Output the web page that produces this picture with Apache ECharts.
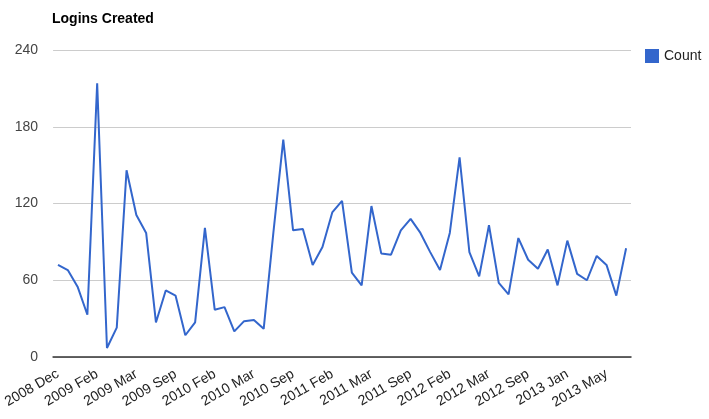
<!DOCTYPE html>
<html>
<head>
<meta charset="utf-8">
<script src="https://cdn.jsdelivr.net/npm/echarts@6/dist/echarts.min.js"></script>
<style>
html,body{margin:0;padding:0;background:#fff;}
#chart{width:709px;height:419px;}
</style>
</head>
<body>
<div id="chart"></div>
<script>
var categories = [
  "2008 Dec",
  "2009 Apr","2009 Aug","2009 Dec","2009 Feb","2009 Jan","2009 Jul","2009 Jun","2009 Mar","2009 May","2009 Nov","2009 Oct","2009 Sep",
  "2010 Apr","2010 Aug","2010 Dec","2010 Feb","2010 Jan","2010 Jul","2010 Jun","2010 Mar","2010 May","2010 Nov","2010 Oct","2010 Sep",
  "2011 Apr","2011 Aug","2011 Dec","2011 Feb","2011 Jan","2011 Jul","2011 Jun","2011 Mar","2011 May","2011 Nov","2011 Oct","2011 Sep",
  "2012 Apr","2012 Aug","2012 Dec","2012 Feb","2012 Jan","2012 Jul","2012 Jun","2012 Mar","2012 May","2012 Nov","2012 Oct","2012 Sep",
  "2013 Apr","2013 Aug","2013 Feb","2013 Jan","2013 Jul","2013 Jun","2013 Mar","2013 May","2013 Oct","2013 Sep"
];
var countValues = [
  72,68,55,33,214,7,23,146,111,97,
  27,52,48,17,27,101,37,39,20,28,
  29,22,98,170,99,100,72,86,113,122,
  66,56,118,81,80,99,108,97,82,68,
  97,156,82,63,103,58,49,93,76,69,
  84,56,91,65,60,79,72,48,85
];
var yTicks = [0, 60, 120, 180, 240];

var FONT = "Arial, 'Liberation Sans', sans-serif";
var chart = echarts.init(document.getElementById('chart'));
chart.setOption({
  animation: false,
  backgroundColor: '#fff',
  title: {
    text: 'Logins Created',
    left: 52, top: 12, padding: 0,
    textStyle: {fontFamily: FONT, fontSize: 14, fontWeight: 'bold', color: '#000'}
  },
  legend: {
    data: ['Count'],
    left: 645, top: 49, padding: 0,
    icon: 'rect', itemWidth: 14, itemHeight: 14, itemGap: 5,
    textStyle: {fontFamily: FONT, fontSize: 14, color: '#222'}
  },
  grid: {left: 52, right: 78, top: 50, bottom: 62, containLabel: false},
  xAxis: {
    type: 'category',
    data: categories,
    boundaryGap: true,
    axisLine: {show: true, lineStyle: {color: '#333', width: 1.5}},
    axisTick: {show: false},
    axisLabel: {interval: 3, rotate: 30, margin: 16, fontFamily: FONT, fontSize: 14, color: '#222'},
    splitLine: {show: false}
  },
  yAxis: {
    type: 'value',
    min: yTicks[0], max: yTicks[yTicks.length - 1], interval: 60,
    axisLine: {show: false},
    axisTick: {show: false},
    axisLabel: {margin: 15, fontFamily: FONT, fontSize: 14, color: '#444'},
    splitLine: {lineStyle: {color: '#ccc', width: 1}}
  },
  series: [{
    name: 'Count',
    type: 'line',
    data: countValues,
    symbol: 'none',
    color: '#3366cc',
    lineStyle: {color: '#3366cc', width: 2}
  }]
});
</script>
</body>
</html>
